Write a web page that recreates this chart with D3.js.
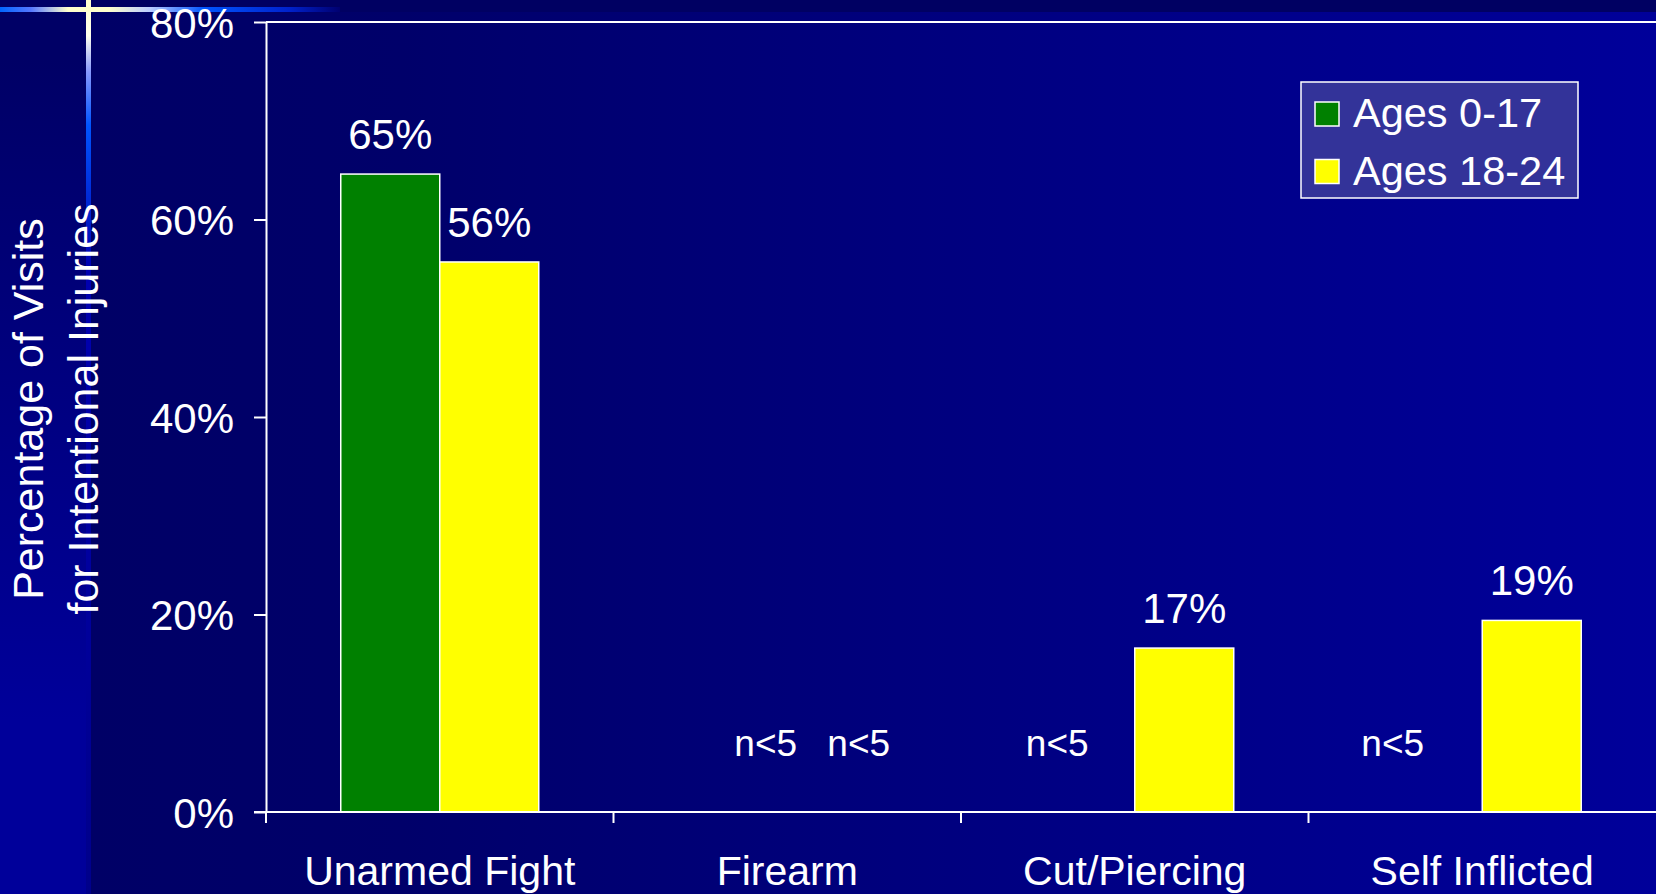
<!DOCTYPE html>
<html>
<head>
<meta charset="utf-8">
<script src="https://cdn.jsdelivr.net/npm/d3@7/dist/d3.min.js"></script>
<style>
  html, body { margin: 0; padding: 0; background: #000066; }
  svg { display: block; }
  text { font-family: "Liberation Sans", Arial, sans-serif; fill: #ffffff; }
</style>
</head>
<body>
<svg id="chart" width="1656" height="894"></svg>
<script>
// ---- data ----
const categories = ["Unarmed Fight", "Firearm", "Cut/Piercing", "Self Inflicted"];
const seriesNames = ["Ages 0-17", "Ages 18-24"];
const ages0to17 = [64.6, null, null, null];   // null = suppressed (n<5)
const ages18to24 = [55.7, null, 16.6, 19.4];
const yTicks = [0, 20, 40, 60, 80];
const suppressedLabel = "n<5";
const yTitleLines = ["Percentage of Visits", "for Intentional Injuries"];

// ---- style / layout ----
const colors = ["#008000", "#ffff00"];
// manual nudges of the "n<5" text boxes (as placed on the original slide)
const naNudge = { "Firearm|0": 28, "Firearm|1": 22, "Cut/Piercing|0": -28, "Self Inflicted|0": -40 };

const W = 1656, H = 894;
const svg = d3.select("#chart");
const defs = svg.append("defs");

// background gradients
const gMain = defs.append("linearGradient").attr("id", "gMain")
  .attr("gradientUnits", "userSpaceOnUse").attr("x1", 88).attr("x2", W).attr("y1", 0).attr("y2", 0);
gMain.append("stop").attr("offset", 0).attr("stop-color", "#000066");
gMain.append("stop").attr("offset", 0.2).attr("stop-color", "#00006a");
gMain.append("stop").attr("offset", 1).attr("stop-color", "#00009a");

const gLeft = defs.append("linearGradient").attr("id", "gLeft")
  .attr("gradientUnits", "userSpaceOnUse").attr("x1", 0).attr("x2", 0).attr("y1", 60).attr("y2", 720);
gLeft.append("stop").attr("offset", 0).attr("stop-color", "#000066");
gLeft.append("stop").attr("offset", 1).attr("stop-color", "#00009a");

const gHLine = defs.append("linearGradient").attr("id", "gHLine")
  .attr("gradientUnits", "userSpaceOnUse").attr("x1", 0).attr("x2", 340).attr("y1", 0).attr("y2", 0);
[[0, "#0066ff"], [0.09, "#5577ff"], [0.2, "#ffffcc"], [0.32, "#ffffcc"], [0.44, "#bbccff"],
 [0.6, "#0055ff"], [0.85, "#0022cc"], [1, "#000070"]].forEach(([o, c]) =>
  gHLine.append("stop").attr("offset", o).attr("stop-color", c));

const gVLine = defs.append("linearGradient").attr("id", "gVLine")
  .attr("gradientUnits", "userSpaceOnUse").attr("x1", 0).attr("x2", 0).attr("y1", 0).attr("y2", H);
[[0, "#ffffcc"], [0.04, "#ffffee"], [0.08, "#8899ff"], [0.14, "#0055ff"], [0.3, "#0000b0"],
 [1, "#00008a"]].forEach(([o, c]) => gVLine.append("stop").attr("offset", o).attr("stop-color", c));

svg.append("rect").attr("width", W).attr("height", H).attr("fill", "#000066");
svg.append("rect").attr("x", 88).attr("y", 12).attr("width", W - 88).attr("height", H - 12).attr("fill", "url(#gMain)");
svg.append("rect").attr("x", 0).attr("y", 12).attr("width", 86).attr("height", H - 12).attr("fill", "url(#gLeft)");
svg.append("rect").attr("x", 88).attr("y", 0).attr("width", W - 88).attr("height", 12).attr("fill", "#000062");
svg.append("rect").attr("x", 86).attr("y", 0).attr("width", 5).attr("height", H).attr("fill", "url(#gVLine)");
svg.append("rect").attr("x", 0).attr("y", 7).attr("width", 340).attr("height", 5).attr("fill", "url(#gHLine)");

// ---- scales ----
const plot = { left: 266, right: W, top: 22, bottom: 812 };
const x0 = d3.scaleBand().domain(categories).range([plot.left, plot.right]).paddingInner(0).paddingOuter(0);
const x1 = d3.scaleBand().domain(d3.range(seriesNames.length)).range([0, x0.bandwidth()]).paddingInner(0).paddingOuter(0.755);
const y = d3.scaleLinear().domain([0, 80]).range([plot.bottom, plot.top]);

const seriesValues = [ages0to17, ages18to24];

// ---- bars ----
const groups = svg.append("g").selectAll("g").data(categories).join("g")
  .attr("transform", c => `translate(${x0(c)},0)`);

groups.each(function (c, ci) {
  const g = d3.select(this);
  seriesValues.forEach((vals, si) => {
    const v = vals[ci];
    const cx = x1(si) + x1.bandwidth() / 2;
    if (v == null) {
      const nudge = naNudge[c + "|" + si] || 0;
      g.append("text").attr("x", cx + nudge).attr("y", y(0) - 56)
        .attr("text-anchor", "middle").attr("font-size", 37).text(suppressedLabel);
    } else {
      g.append("rect").attr("x", x1(si)).attr("y", y(v))
        .attr("width", x1.bandwidth()).attr("height", y(0) - y(v))
        .attr("fill", colors[si]).attr("stroke", "#ffffff").attr("stroke-width", 1.5);
      g.append("text").attr("x", cx).attr("y", y(v) - 25)
        .attr("text-anchor", "middle").attr("font-size", 42).text(Math.round(v) + "%");
    }
  });
});

// ---- axes ----
const yAxis = d3.axisLeft(y).tickValues(yTicks).tickFormat(d => d + "%")
  .tickSize(12).tickSizeOuter(0).tickPadding(20);
const yg = svg.append("g").attr("transform", `translate(${plot.left},0)`).call(yAxis);
yg.select(".domain").attr("stroke", "#fff").attr("stroke-width", 2);
yg.selectAll(".tick line").attr("stroke", "#fff").attr("stroke-width", 2);
yg.selectAll(".tick text").attr("fill", "#fff").attr("font-size", 42)
  .attr("font-family", "Liberation Sans, Arial, sans-serif").attr("dy", "0.36em");

// x axis line and top frame line
svg.append("line").attr("x1", plot.left - 12).attr("x2", plot.right).attr("y1", plot.bottom).attr("y2", plot.bottom)
  .attr("stroke", "#fff").attr("stroke-width", 2);
svg.append("line").attr("x1", plot.left).attr("x2", plot.right).attr("y1", plot.top).attr("y2", plot.top)
  .attr("stroke", "#fff").attr("stroke-width", 2);
// boundary ticks between categories
svg.append("g").selectAll("line").data(categories).join("line")
  .attr("x1", c => x0(c)).attr("x2", c => x0(c))
  .attr("y1", plot.bottom).attr("y2", plot.bottom + 11)
  .attr("stroke", "#fff").attr("stroke-width", 2);
// category labels
svg.append("g").selectAll("text").data(categories).join("text")
  .attr("x", c => x0(c) + x0.bandwidth() / 2).attr("y", 885)
  .attr("text-anchor", "middle").attr("font-size", 41).text(c => c);

// y title
yTitleLines.forEach((t, i) => {
  svg.append("text").attr("transform", `translate(${43 + i * 55},409) rotate(-90)`)
    .attr("text-anchor", "middle").attr("font-size", 43).text(t);
});

// ---- legend ----
const lg = svg.append("g").attr("transform", "translate(1301,82)");
lg.append("rect").attr("width", 277).attr("height", 116).attr("fill", "#333399")
  .attr("stroke", "#fff").attr("stroke-width", 1.5);
seriesNames.forEach((n, i) => {
  lg.append("rect").attr("x", 14).attr("y", 20 + i * 57.5).attr("width", 24).attr("height", 24)
    .attr("fill", colors[i]).attr("stroke", "#fff").attr("stroke-width", 1.5);
  lg.append("text").attr("x", 52).attr("y", 45 + i * 57.5).attr("font-size", 41.5).text(n);
});
</script>
</body>
</html>
